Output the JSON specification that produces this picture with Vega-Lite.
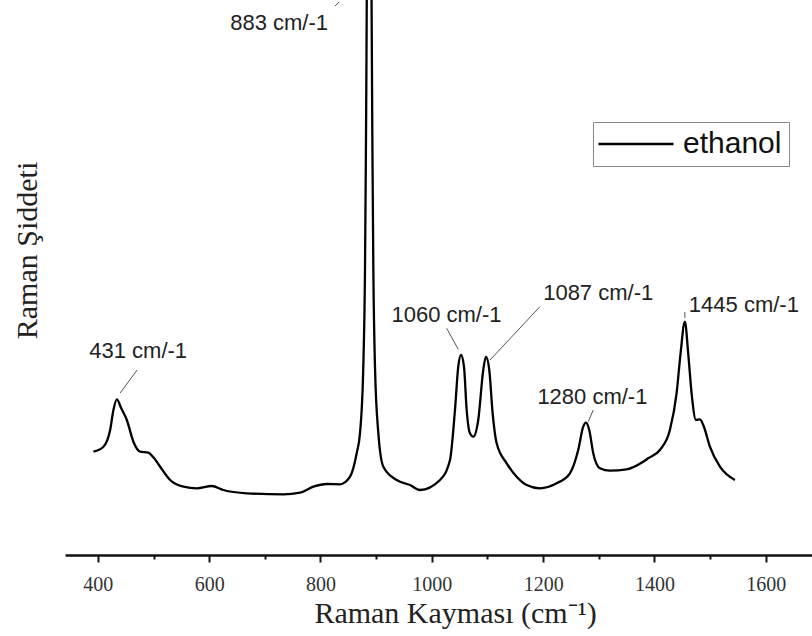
{
  "$schema": "https://vega.github.io/schema/vega-lite/v6.json",
  "width": 747,
  "height": 555,
  "autosize": {"type": "none"},
  "padding": {"left": 65, "top": 0, "right": 0, "bottom": 81},
  "background": "white",
  "config": {"view": {"stroke": null}},
  "encoding": {
    "x": {
      "field": "shift", "type": "quantitative",
      "scale": {"domain": [341, 1683], "nice": false, "zero": false},
      "axis": {
        "title": "Raman Kayması (cm⁻¹)",
        "titleFont": "Liberation Serif", "titleFontSize": 30, "titleFontWeight": "normal", "titleColor": "#222",
        "titleX": 390, "titleY": 43, "titleBaseline": "top",
        "values": [400, 500, 600, 700, 800, 900, 1000, 1100, 1200, 1300, 1400, 1500, 1600],
        "labelExpr": "datum.value % 200 === 0 ? datum.label : ''",
        "format": "d",
        "labelFont": "Liberation Serif", "labelFontSize": 20, "labelColor": "#333", "labelPadding": 12,
        "grid": false,
        "domainColor": "#111", "domainWidth": 2.5,
        "tickColor": "#111", "tickWidth": 2,
        "tickSize": {"condition": {"test": "datum.value % 200 === 0", "value": 7}, "value": 4}
      }
    },
    "y": {
      "field": "intensity", "type": "quantitative",
      "scale": {"domain": [-2, 553], "nice": false, "zero": false},
      "axis": {
        "title": "Raman Şiddeti",
        "titleFont": "Liberation Serif", "titleFontSize": 30, "titleFontWeight": "normal", "titleColor": "#222",
        "titlePadding": 23, "titleY": 250,
        "labels": false, "ticks": false, "domain": false, "grid": false
      }
    }
  },
  "layer": [
    {
      "data": {"values": [
        {"shift": 392.1, "intensity": 101.3, "series": "ethanol"},
        {"shift": 410.1, "intensity": 106.3, "series": "ethanol"},
        {"shift": 422.1, "intensity": 123, "series": "ethanol"},
        {"shift": 428.0, "intensity": 143, "series": "ethanol"},
        {"shift": 434.1, "intensity": 153.7, "series": "ethanol"},
        {"shift": 441.8, "intensity": 145, "series": "ethanol"},
        {"shift": 452.1, "intensity": 133, "series": "ethanol"},
        {"shift": 463.9, "intensity": 111.3, "series": "ethanol"},
        {"shift": 476.0, "intensity": 101.3, "series": "ethanol"},
        {"shift": 490.9, "intensity": 100.3, "series": "ethanol"},
        {"shift": 499.8, "intensity": 95.7, "series": "ethanol"},
        {"shift": 511.9, "intensity": 86.3, "series": "ethanol"},
        {"shift": 529.8, "intensity": 73, "series": "ethanol"},
        {"shift": 553.7, "intensity": 66.3, "series": "ethanol"},
        {"shift": 577.8, "intensity": 64.7, "series": "ethanol"},
        {"shift": 604.7, "intensity": 67, "series": "ethanol"},
        {"shift": 625.5, "intensity": 63, "series": "ethanol"},
        {"shift": 667.6, "intensity": 59.7, "series": "ethanol"},
        {"shift": 733.3, "intensity": 58.7, "series": "ethanol"},
        {"shift": 763.3, "intensity": 60.3, "series": "ethanol"},
        {"shift": 787.2, "intensity": 66.3, "series": "ethanol"},
        {"shift": 811.2, "intensity": 69, "series": "ethanol"},
        {"shift": 835.1, "intensity": 68.7, "series": "ethanol"},
        {"shift": 853.1, "intensity": 76.3, "series": "ethanol"},
        {"shift": 865.1, "intensity": 100, "series": "ethanol"},
        {"shift": 871.0, "intensity": 120, "series": "ethanol"},
        {"shift": 876.9, "intensity": 186.3, "series": "ethanol"},
        {"shift": 880.0, "intensity": 286.3, "series": "ethanol"},
        {"shift": 881.8, "intensity": 420, "series": "ethanol"},
        {"shift": 887.2, "intensity": 900, "series": "ethanol"},
        {"shift": 893.1, "intensity": 420, "series": "ethanol"},
        {"shift": 894.9, "intensity": 286.3, "series": "ethanol"},
        {"shift": 897.9, "intensity": 186.3, "series": "ethanol"},
        {"shift": 903.9, "intensity": 120, "series": "ethanol"},
        {"shift": 912.9, "intensity": 86.3, "series": "ethanol"},
        {"shift": 936.9, "intensity": 73, "series": "ethanol"},
        {"shift": 960.8, "intensity": 68, "series": "ethanol"},
        {"shift": 978.8, "intensity": 63, "series": "ethanol"},
        {"shift": 1014.7, "intensity": 73, "series": "ethanol"},
        {"shift": 1032.6, "intensity": 93, "series": "ethanol"},
        {"shift": 1041.6, "intensity": 143, "series": "ethanol"},
        {"shift": 1047.5, "intensity": 186.3, "series": "ethanol"},
        {"shift": 1052.4, "intensity": 198, "series": "ethanol"},
        {"shift": 1057.8, "intensity": 186.3, "series": "ethanol"},
        {"shift": 1062.6, "intensity": 143, "series": "ethanol"},
        {"shift": 1068.5, "intensity": 119.7, "series": "ethanol"},
        {"shift": 1074.5, "intensity": 116.3, "series": "ethanol"},
        {"shift": 1083.4, "intensity": 133, "series": "ethanol"},
        {"shift": 1092.4, "intensity": 183, "series": "ethanol"},
        {"shift": 1097.3, "intensity": 196.3, "series": "ethanol"},
        {"shift": 1103.2, "intensity": 183, "series": "ethanol"},
        {"shift": 1109.3, "intensity": 139.7, "series": "ethanol"},
        {"shift": 1116.5, "intensity": 109.7, "series": "ethanol"},
        {"shift": 1134.5, "intensity": 89.7, "series": "ethanol"},
        {"shift": 1152.4, "intensity": 76.3, "series": "ethanol"},
        {"shift": 1170.4, "intensity": 68, "series": "ethanol"},
        {"shift": 1194.3, "intensity": 64.7, "series": "ethanol"},
        {"shift": 1224.2, "intensity": 69.7, "series": "ethanol"},
        {"shift": 1248.1, "intensity": 79.7, "series": "ethanol"},
        {"shift": 1263.0, "intensity": 103, "series": "ethanol"},
        {"shift": 1272.0, "intensity": 126.3, "series": "ethanol"},
        {"shift": 1276.9, "intensity": 130.3, "series": "ethanol"},
        {"shift": 1282.8, "intensity": 123, "series": "ethanol"},
        {"shift": 1290.0, "intensity": 99.7, "series": "ethanol"},
        {"shift": 1302.0, "intensity": 84.7, "series": "ethanol"},
        {"shift": 1320.0, "intensity": 82.3, "series": "ethanol"},
        {"shift": 1349.9, "intensity": 83.7, "series": "ethanol"},
        {"shift": 1379.7, "intensity": 91.3, "series": "ethanol"},
        {"shift": 1388.7, "intensity": 94.7, "series": "ethanol"},
        {"shift": 1409.7, "intensity": 103, "series": "ethanol"},
        {"shift": 1427.7, "intensity": 123, "series": "ethanol"},
        {"shift": 1439.7, "intensity": 159.7, "series": "ethanol"},
        {"shift": 1446.9, "intensity": 199.7, "series": "ethanol"},
        {"shift": 1454.6, "intensity": 231.3, "series": "ethanol"},
        {"shift": 1460.6, "intensity": 199.7, "series": "ethanol"},
        {"shift": 1466.7, "intensity": 159.7, "series": "ethanol"},
        {"shift": 1474.5, "intensity": 133, "series": "ethanol"},
        {"shift": 1481.7, "intensity": 133.7, "series": "ethanol"},
        {"shift": 1488.8, "intensity": 126.3, "series": "ethanol"},
        {"shift": 1499.6, "intensity": 106.3, "series": "ethanol"},
        {"shift": 1517.6, "intensity": 86.3, "series": "ethanol"},
        {"shift": 1544.5, "intensity": 73, "series": "ethanol"}
      ]},
      "mark": {"type": "line", "clip": true, "strokeWidth": 2.3, "interpolate": "monotone"},
      "encoding": {
        "color": {
          "field": "series", "type": "nominal",
          "scale": {"range": ["#000000"]},
          "legend": {
            "title": null, "orient": "none", "legendX": 528, "legendY": 122,
            "symbolType": "M-3,0H3", "symbolSize": 625, "symbolStrokeWidth": 2.5,
            "symbolOffset": 21,
            "labelFont": "Liberation Sans", "labelFontSize": 30, "labelColor": "#111",
            "labelOffset": 32, "labelLimit": 300,
            "strokeColor": "#888", "padding": 7
          }
        }
      }
    },
    {
      "data": {"values": [
        {"shift": 440.0, "intensity": 160, "shift2": 470.6, "intensity2": 183},
        {"shift": 826.1, "intensity": 547, "shift2": 833.3, "intensity2": 551},
        {"shift": 1026.7, "intensity": 224.7, "shift2": 1047.5, "intensity2": 203.7},
        {"shift": 1194.2, "intensity": 246.3, "shift2": 1104.5, "intensity2": 193},
        {"shift": 1290.0, "intensity": 143, "shift2": 1281.0, "intensity2": 131.3},
        {"shift": 1454.6, "intensity": 241, "shift2": 1454.6, "intensity2": 235}
      ]},
      "mark": {"type": "rule", "color": "#555", "strokeWidth": 1},
      "encoding": {
        "x2": {"field": "shift2"},
        "y2": {"field": "intensity2"}
      }
    },
    {
      "data": {"values": [
        {"shift": 725.6, "intensity": 530.5, "label": "883 cm/-1"},
        {"shift": 472.4, "intensity": 202, "label": "431 cm/-1"},
        {"shift": 1026.3, "intensity": 238, "label": "1060 cm/-1"},
        {"shift": 1298.9, "intensity": 260, "label": "1087 cm/-1"},
        {"shift": 1288.5, "intensity": 156.5, "label": "1280 cm/-1"},
        {"shift": 1560.6, "intensity": 248, "label": "1445 cm/-1"}
      ]},
      "mark": {"type": "text", "font": "Liberation Sans", "fontSize": 22, "color": "#222", "align": "center", "baseline": "middle"},
      "encoding": {"text": {"field": "label"}}
    }
  ]
}
